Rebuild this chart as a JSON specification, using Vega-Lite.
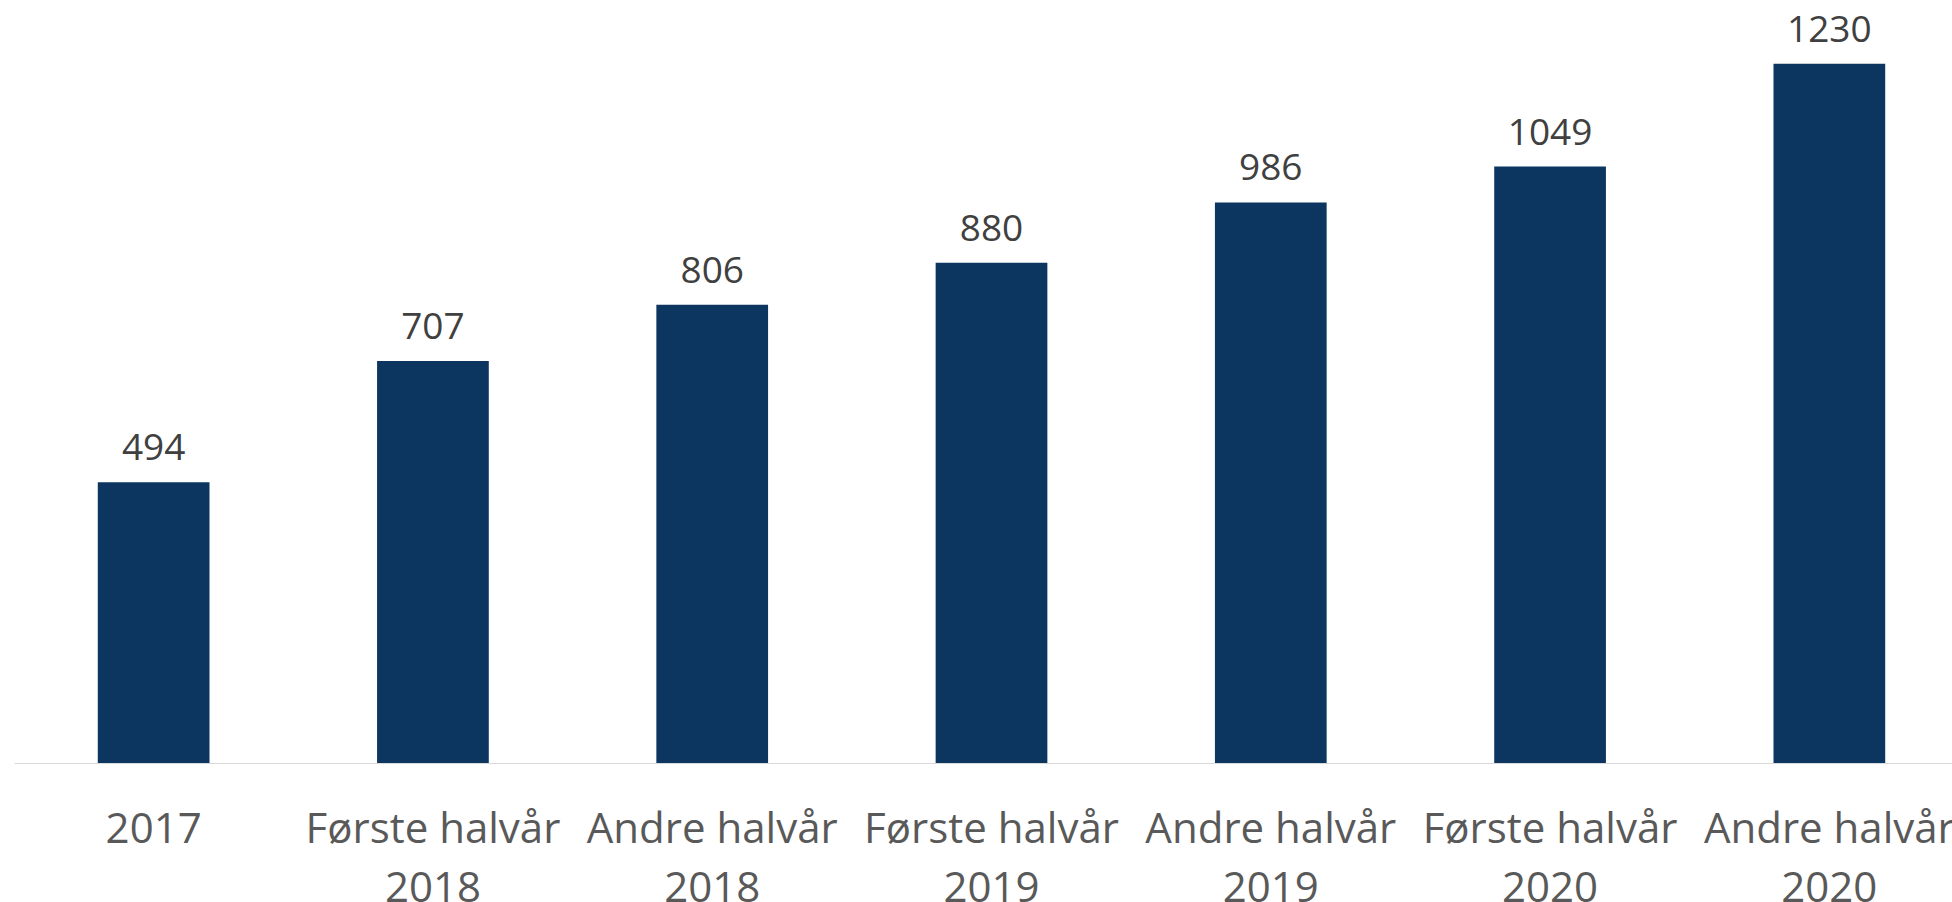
{
  "$schema": "https://vega.github.io/schema/vega-lite/v6.json",
  "autosize": {"type": "none"},
  "padding": {"left": 14, "top": 0, "right": 0, "bottom": 139},
  "width": 1938,
  "height": 763,
  "background": "white",
  "config": {"view": {"stroke": null}},
  "data": {
    "values": [
      {"periode": "2017", "antall": 494},
      {"periode": "Første halvår 2018", "antall": 707},
      {"periode": "Andre halvår 2018", "antall": 806},
      {"periode": "Første halvår 2019", "antall": 880},
      {"periode": "Andre halvår 2019", "antall": 986},
      {"periode": "Første halvår 2020", "antall": 1049},
      {"periode": "Andre halvår 2020", "antall": 1230}
    ]
  },
  "encoding": {
    "x": {
      "field": "periode",
      "type": "nominal",
      "sort": null,
      "scale": {"range": [0, 1955], "paddingInner": 0.6, "paddingOuter": 0.3},
      "axis": {
        "title": null,
        "ticks": false,
        "domainColor": "#d9d9d9",
        "domainWidth": 1.2,
        "labelAngle": 0,
        "labelFont": "Open Sans",
        "labelFontSize": 42,
        "labelColor": "#595959",
        "labelBaseline": "alphabetic",
        "labelPadding": 79,
        "labelLineHeight": 59,
        "labelOverlap": false,
        "labelBound": false,
        "labelLimit": 0,
        "labelExpr": "length(datum.label) > 4 ? [substring(datum.label, 0, lastindexof(datum.label, ' ')), substring(datum.label, lastindexof(datum.label, ' ') + 1)] : datum.label"
      }
    },
    "y": {
      "field": "antall",
      "type": "quantitative",
      "scale": {"domain": [0, 1342], "nice": false},
      "axis": null
    }
  },
  "layer": [
    {"mark": {"type": "bar", "color": "#0c365f"}},
    {
      "mark": {
        "type": "text",
        "font": "Open Sans",
        "fontSize": 37,
        "color": "#404040",
        "baseline": "alphabetic",
        "dy": -22
      },
      "encoding": {"text": {"field": "antall", "type": "quantitative"}}
    }
  ]
}
